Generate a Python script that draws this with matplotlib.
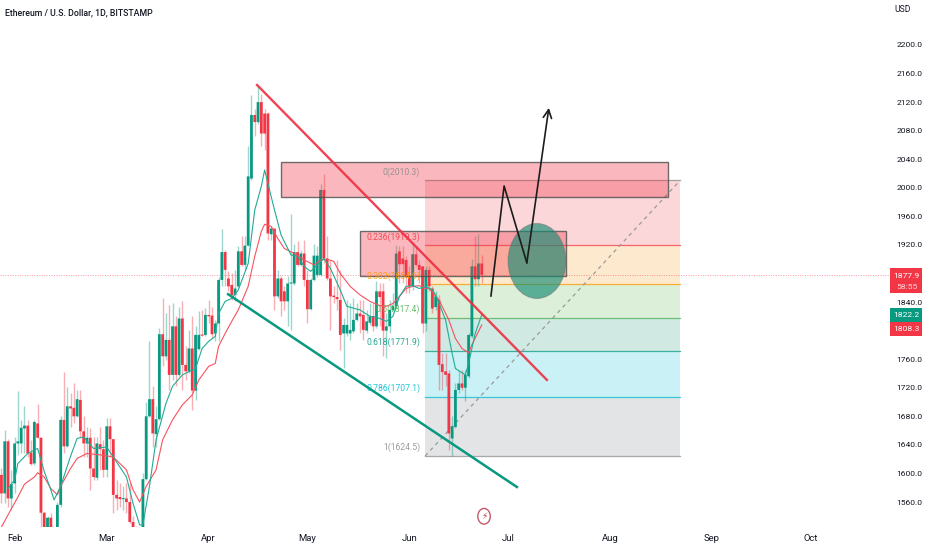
import numpy as np
import matplotlib
matplotlib.use('Agg')
import matplotlib.pyplot as plt
from matplotlib.patches import Rectangle, Ellipse

# candles, first one is Jan 28, day numbers count from Feb 1
opens = [1598,1572,1645,1565,1586,1642,1642,1663,1667,1629,1614,1670,1650,1545,1518,1538,1522,1515,1556,1675,
         1638,1694,1692,1680,1703,1659,1642,1650,1607,1594,1641,1634,1605,1666,1648,1570,1567,1564,1565,1560,
         1532,1522,1512,1500,1592,1680,1704,1655,1676,1795,1764,1787,1738,1806,1738,1817,1752,1743,1775,1716,
         1774,1794,1794,1822,1821,1796,1810,1871,1910,1873,1864,1850,1862,1911,1892,1919,2013,2102,2092,2120,
         2104,2104,1935,1943,1848,1873,1855,1841,1866,1866,1910,1892,1908,1871,1830,1871,1878,1878,1997,1901,
         1873,1849,1847,1843,1796,1796,1796,1799,1815,1824,1822,1800,1811,1820,1806,1855,1855,1800,1806,1829,
         1834,1911,1901,1899,1876,1862,1907,1892,1890,1810,1885,1859,1833,1843,1753,1743,1740,1649,1665,1717,
         1726,1720,1736,1792,1890,1872,1894]
highs = [1607,1661,1648,1605,1651,1715,1675,1694,1675,1647,1675,1697,1651,1546,1541,1545,1524,1560,1680,1742,
         1721,1712,1726,1717,1717,1680,1665,1663,1651,1651,1665,1647,1677,1677,1648,1591,1586,1582,1586,1586,
         1540,1526,1518,1600,1700,1785,1722,1694,1803,1845,1824,1836,1839,1820,1833,1841,1778,1801,1820,1806,
         1827,1829,1831,1843,1833,1815,1875,1942,1913,1883,1880,1885,1918,1932,1932,2058,2130,2111,2142,2132,
         2110,2106,1945,1943,1885,1876,1862,1876,1963,1922,1925,1913,1927,1885,1873,1922,1918,2006,2020,1932,
         1899,1862,1899,1885,1817,1843,1838,1845,1838,1843,1843,1829,1838,1838,1869,1866,1866,1824,1843,1852,
         1920,1918,1918,1904,1890,1922,1918,1899,1890,1890,1890,1862,1855,1850,1768,1768,1745,1680,1726,1745,
         1745,1745,1796,1900,1932,1936,1906]
lows = [1558,1558,1553,1549,1572,1626,1628,1628,1623,1612,1612,1650,1525,1515,1510,1510,1505,1505,1553,1628,
        1637,1665,1670,1679,1651,1623,1623,1577,1591,1591,1605,1595,1595,1623,1544,1549,1553,1549,1544,1530,
        1510,1495,1490,1490,1591,1679,1637,1637,1675,1750,1759,1717,1731,1722,1736,1717,1731,1740,1689,1703,
        1773,1792,1792,1810,1790,1785,1785,1862,1862,1855,1843,1841,1859,1890,1885,1918,2011,2072,2090,2058,
        2053,1927,1927,1829,1845,1820,1829,1806,1801,1864,1890,1890,1862,1810,1829,1869,1875,1876,1894,1871,
        1801,1838,1829,1773,1747,1792,1787,1796,1813,1796,1787,1796,1808,1799,1803,1806,1764,1762,1796,1827,
        1831,1866,1866,1852,1852,1857,1890,1866,1796,1799,1855,1825,1829,1717,1717,1722,1633,1624,1663,1712,
        1717,1701,1733,1789,1862,1862,1866]
closes = [1572,1645,1565,1585,1642,1645,1664,1667,1628,1613,1672,1650,1545,1525,1538,1520,1515,1556,1675,1638,
          1694,1691,1680,1704,1659,1642,1650,1607,1595,1642,1634,1605,1666,1648,1570,1565,1564,1565,1560,1532,
          1522,1510,1500,1592,1680,1704,1656,1676,1795,1764,1787,1738,1806,1738,1817,1752,1743,1775,1716,1794,
          1794,1793,1822,1820,1795,1810,1871,1910,1885,1862,1850,1859,1911,1892,1919,2016,2102,2092,2120,2076,
          2076,1936,1943,1848,1873,1841,1841,1866,1866,1910,1892,1908,1871,1830,1871,1905,1905,1997,1901,1873,
          1848,1847,1844,1794,1808,1808,1801,1815,1824,1820,1801,1813,1820,1806,1855,1847,1800,1806,1829,1834,
          1908,1893,1893,1876,1862,1907,1892,1885,1810,1885,1862,1831,1848,1752,1742,1738,1656,1666,1717,1726,
          1720,1738,1794,1890,1872,1894,1878]

# moving averages, sampled at candle numbers
red_ma_i = [0,2,5,7,10,11,13,15,17,18,21,23,26,30,34,38,40,42,44,47,49,52,55,58,60,63,65,66,68,70,72,75,77,79,80,82,
            84,86,89,92,95,97,99,101,103,106,109,112,115,117,119,121,123,125,127,129,130,133,136,138,140,142,143,146]
red_ma = [1525,1542,1567,1585,1595,1601,1595,1579,1570,1582,1607,1621,1628,1626,1623,1605,1577,1560,1582,1605,1647,
          1675,1696,1710,1731,1750,1754,1778,1796,1813,1829,1862,1904,1939,1949,1946,1929,1915,1908,1899,1892,1899,
          1900,1897,1880,1862,1850,1841,1835,1834,1838,1848,1859,1862,1863,1859,1859,1843,1815,1789,1775,1769,1780,1808]
green_ma_i = [2,4,5,8,11,13,15,16,18,21,23,25,28,32,34,38,40,42,43,45,47,50,52,55,59,61,63,65,66,68,70,72,75,77,79,80,81,
              83,85,88,90,92,94,96,98,100,103,105,109,112,114,117,119,121,123,125,127,129,131,132,135,137,138,141,142,144,146]
green_ma = [1579,1591,1614,1628,1635,1603,1577,1563,1582,1624,1649,1651,1635,1637,1623,1595,1558,1528,1528,1582,1647,
            1698,1722,1738,1747,1775,1785,1792,1824,1841,1845,1857,1894,1969,2002,2025,2006,1969,1934,1906,1904,1890,
            1883,1892,1901,1887,1857,1834,1829,1820,1819,1813,1820,1848,1862,1863,1859,1862,1857,1850,1815,1768,1747,
            1738,1754,1796,1822]

# fib retracement
fib_levels = [0, 0.236, 0.382, 0.5, 0.618, 0.786, 1]
fib_prices = [2010.3, 1919.3, 1864.9, 1817.4, 1771.9, 1707.1, 1624.5]
fib_labels = ['0(2010.3)', '0.236(1919.3)', '0.382(1864.9)', '0.5(1817.4)', '0.618(1771.9)', '0.786(1707.1)', '1(1624.5)']
fib_line_colors = ['#8a8a8a', '#f23645', '#ff9800', '#4caf50', '#089981', '#00bcd4', '#8a8a8a']
fib_band_colors = ['#fbd7da', '#fde9cd', '#dcefd9', '#d0e9e2', '#caf1f5', '#e3e4e6']

y_ticks = [1560,1600,1640,1680,1720,1760,1840,1920,1960,2000,2040,2080,2120,2160,2200]
month_days = [0, 28, 59, 89, 120, 150, 181, 212, 242]
month_names = ['Feb', 'Mar', 'Apr', 'May', 'Jun', 'Jul', 'Aug', 'Sep', 'Oct']

GREEN = '#089981'
RED = '#f23645'
FONT = 'Roboto'

fig = plt.figure(figsize=(9.32, 5.5), dpi=100)
ax = fig.add_axes([0, 23 / 550, 889 / 932, 527 / 550])
ax.set_xlim(-4.44, 265.8)
ax.set_ylim(1525, 2263)
for s in ax.spines.values():
    s.set_visible(False)

days = np.arange(len(opens)) - 4

# fib bands first, candles sit on top of them
fib_x0, fib_x1 = 124.8, 202.3
for k in range(len(fib_band_colors)):
    ax.fill_between([fib_x0, fib_x1], fib_prices[k], fib_prices[k + 1], color=fib_band_colors[k], lw=0, zorder=1)
for k in range(len(fib_prices)):
    ax.plot([fib_x0, fib_x1], [fib_prices[k]] * 2, color=fib_line_colors[k], lw=0.9, alpha=0.75, zorder=1.5)
    ax.text(fib_x0 - 1.5, fib_prices[k] + 12, fib_labels[k], color=fib_line_colors[k], fontsize=6.2,
            family=FONT, ha='right', va='center', zorder=6, alpha=0.85)
ax.plot([fib_x0, fib_x1], [fib_prices[-1], fib_prices[0]], color='#9a9a9a', lw=0.9, ls=(0, (3, 3)), zorder=1.5)

# current price line
ax.axhline(1877.9, color=RED, lw=0.7, ls=(0, (1, 1.5)), alpha=0.5, zorder=2)

# candles
for d, o, h, l, c in zip(days, opens, highs, lows, closes):
    col = GREEN if c >= o else RED
    ax.plot([d, d], [l, h], color=col, lw=1, alpha=0.4, zorder=3, solid_capstyle='butt')
    ax.bar(d, max(abs(c - o), 1.5), bottom=min(o, c), width=0.84, color=col, lw=0, zorder=3.2, snap=False)

ax.plot(np.array(red_ma_i) - 4, red_ma, color='#f7525f', lw=0.8, zorder=4)
ax.plot(np.array(green_ma_i) - 4, green_ma, color='#22ab94', lw=0.8, zorder=4)

# drawn boxes
ax.add_patch(Rectangle((81, 1987), 117.6, 49, fc=(0.95, 0.21, 0.27, 0.35), ec=(0.3, 0.3, 0.3, 0.8), lw=1, zorder=5))
ax.add_patch(Rectangle((105, 1876.5), 62.6, 63.5, fc=(0.95, 0.21, 0.27, 0.35), ec=(0.3, 0.3, 0.3, 0.8), lw=1, zorder=5))

# trend lines
ax.plot([73.7, 161.8], [2144, 1731], color='#ee2f40', lw=1.7, alpha=0.9, zorder=6)
ax.plot([64.9, 152.7], [1851, 1581], color=GREEN, lw=1.8, zorder=6)

# forecast path
ax.plot([144.8, 148.8, 155.7], [1848.5, 2002.6, 1895], color='#1c1c1c', lw=1.2, zorder=7)
ax.annotate('', xy=(162.4, 2112), xytext=(155.7, 1895), zorder=7,
            arrowprops=dict(arrowstyle='->', color='#1c1c1c', lw=1.2, mutation_scale=15, shrinkA=0, shrinkB=0))

ax.add_patch(Ellipse((158.8, 1897.5), 17.6, 105, fc=(0.08, 0.55, 0.45, 0.65), ec=(0.45, 0.45, 0.45, 0.5), lw=0.8, zorder=6.5))

# axes labels
ax.yaxis.tick_right()
ax.set_yticks(y_ticks)
ax.set_yticklabels([f'{v:.1f}' for v in y_ticks], family=FONT, fontsize=6.1, color='#131722')
ax.tick_params(axis='y', length=0, pad=5.5)
ax.set_xticks(month_days)
ax.set_xticklabels(month_names, family=FONT, fontsize=6.8, color='#131722')
ax.tick_params(axis='x', length=0, pad=5)

fig.text(5 / 932, 1 - 13 / 550, 'Ethereum / U.S. Dollar, 1D, BITSTAMP', fontsize=6.3, family=FONT,
         color='#131722', va='center', fontweight='medium')
fig.text(903 / 932, 1 - 10 / 550, 'USD', fontsize=6.2, family=FONT, color='#131722', ha='center', va='center')

# price tags on the right
def tag(y0, y1, col, lines):
    fig.patches.append(Rectangle((890 / 932, 1 - y1 / 550), 32 / 932, (y1 - y0) / 550, fc=col, lw=0,
                                 transform=fig.transFigure))
    for txt, y, c in lines:
        fig.text(906.5 / 932, 1 - y / 550, txt, family=FONT, fontsize=6.1, color=c, ha='center', va='center')

tag(268, 293, RED, [('1877.9', 275.5, 'white'), ('58:55', 287, '#ffd0d5')])
tag(308, 322, GREEN, [('1822.2', 315, 'white')])
tag(322, 336, RED, [('1808.3', 329, 'white')])

# lightning mark under the chart
ax.add_patch(Ellipse((142.7, 1540), 3.8, 22, fc='white', ec='#c4596a', lw=1, zorder=8))
ax.text(142.7, 1540, '\u26a1', color='#b8404f', fontsize=6.5, ha='center', va='center', zorder=9, family='DejaVu Sans')

fig.savefig('out.png', dpi=100)
